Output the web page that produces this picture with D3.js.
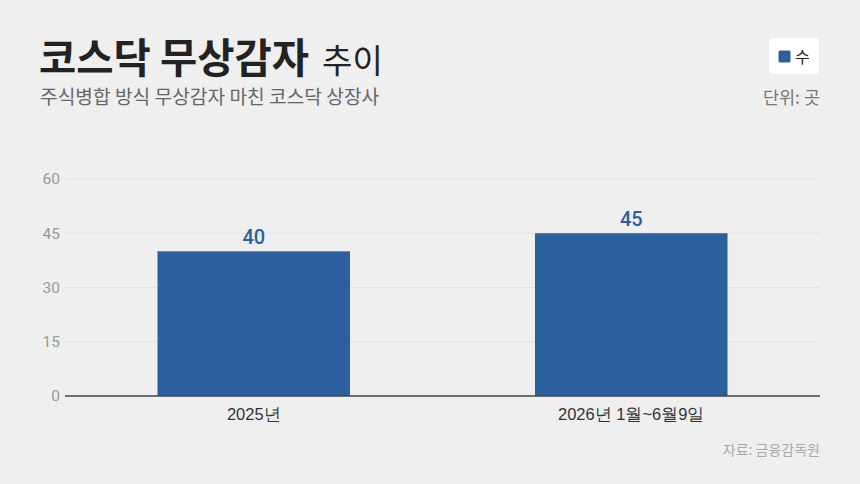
<!DOCTYPE html>
<html>
<head>
<meta charset="utf-8">
<script src="https://cdn.jsdelivr.net/npm/d3@7"></script>
<style>
  body { margin: 0; background: #efefef; }
  svg { display: block; font-family: "Noto Sans CJK KR", "Noto Sans", sans-serif; }
</style>
</head>
<body>
<svg id="chart" width="860" height="484"></svg>
<script>
const categories = ['2025년', '2026년 1월~6월9일'];
const values = [40, 45];
const yTicks = [0, 15, 30, 45, 60];
const seriesName = '수';

const width = 860;
const height = 484;
const margin = { top: 179, right: 40, bottom: 88, left: 65 };
const color = '#2b5f9e';

const svg = d3.select('#chart');

svg.append('rect').attr('width', width).attr('height', height).attr('fill', '#efefef');

// titles
const title = svg.append('text').attr('x', 39).attr('y', 73).attr('fill', '#222');
title.append('tspan').attr('font-size', 40.5).attr('font-weight', 700).text('코스닥 무상감자');
title.append('tspan').attr('font-size', 33).attr('font-weight', 400).attr('dx', 13).text('추이');

svg.append('text').attr('x', 40).attr('y', 104)
   .attr('font-size', 19.2).attr('fill', '#666')
   .text('주식병합 방식 무상감자 마친 코스닥 상장사');

svg.append('text').attr('x', 820).attr('y', 104).attr('text-anchor', 'end')
   .attr('font-size', 17.5).attr('fill', '#777').text('단위: 곳');

// legend
const legend = svg.append('g').attr('transform', 'translate(769,38)');
legend.append('rect').attr('width', 50).attr('height', 36).attr('rx', 4).attr('fill', '#fff');
legend.append('rect').attr('x', 9.5).attr('y', 12.5).attr('width', 12).attr('height', 12).attr('rx', 1.5).attr('fill', color);
legend.append('text').attr('x', 26).attr('y', 24.5).attr('font-size', 16).attr('fill', '#222').text(seriesName);

// scales
const x = d3.scaleBand()
            .domain(categories)
            .range([margin.left, width - margin.right])
            .paddingInner(0.49)
            .paddingOuter(0.245);

const y = d3.scaleLinear()
            .domain([0, 60])
            .range([height - margin.bottom, margin.top]);

// grid lines
svg.append('g').selectAll('line')
   .data(yTicks.filter(d => d !== 0))
   .enter().append('line')
   .attr('x1', margin.left).attr('x2', width - margin.right)
   .attr('y1', d => y(d)).attr('y2', d => y(d))
   .attr('stroke', '#e2e2e2').attr('stroke-width', 1);

// y axis labels
const yAxis = svg.append('g')
   .attr('transform', `translate(${margin.left},0)`)
   .call(d3.axisLeft(y).tickValues(yTicks).tickSize(0).tickPadding(5));
yAxis.select('.domain').remove();
yAxis.selectAll('text').attr('font-size', 15.5).attr('fill', '#999')
     .attr('font-family', 'Roboto, "Noto Sans CJK KR", sans-serif');

// bars
svg.append('g').selectAll('rect')
   .data(values)
   .enter().append('rect')
   .attr('x', (d, i) => x(categories[i]))
   .attr('y', d => y(d))
   .attr('width', x.bandwidth())
   .attr('height', d => y(0) - y(d))
   .attr('fill', color);

// value labels
svg.append('g').selectAll('text')
   .data(values)
   .enter().append('text')
   .attr('x', (d, i) => x(categories[i]) + x.bandwidth() / 2)
   .attr('y', d => y(d) - 7)
   .attr('text-anchor', 'middle')
   .attr('font-size', 20).attr('font-weight', 500)
   .attr('font-family', 'Roboto, "Noto Sans CJK KR", sans-serif')
   .attr('fill', color)
   .text(d => d);

// baseline
svg.append('line')
   .attr('x1', margin.left).attr('x2', width - margin.right)
   .attr('y1', y(0)).attr('y2', y(0))
   .attr('stroke', '#444').attr('stroke-width', 1.5);

// x axis labels
const xAxis = svg.append('g')
   .attr('transform', `translate(0,${y(0)})`)
   .call(d3.axisBottom(x).tickSize(0).tickPadding(12));
xAxis.select('.domain').remove();
xAxis.selectAll('text').attr('font-size', 16.5).attr('fill', '#333');

// source
svg.append('text').attr('x', 820).attr('y', 455).attr('text-anchor', 'end')
   .attr('font-size', 14).attr('fill', '#aaa').text('자료: 금융감독원');
</script>
</body>
</html>
